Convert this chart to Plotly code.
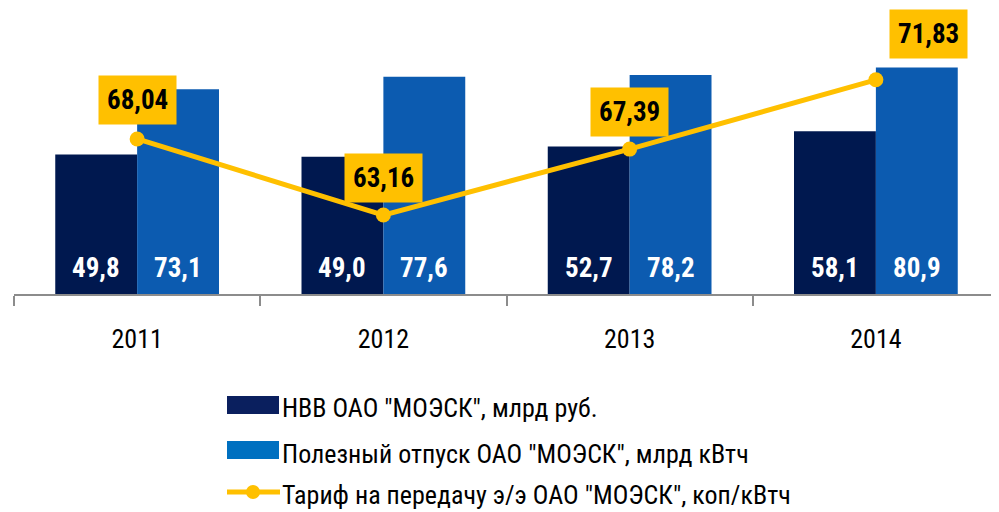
import plotly.graph_objects as go

years = ["2011", "2012", "2013", "2014"]
nvv = [49.8, 49.0, 52.7, 58.1]
otpusk = [73.1, 77.6, 78.2, 80.9]
tarif = [68.04, 63.16, 67.39, 71.83]

name_nvv = 'НВВ ОАО "МОЭСК", млрд руб.'
name_otp = 'Полезный отпуск ОАО "МОЭСК", млрд кВтч'
name_tar = 'Тариф на передачу э/э ОАО "МОЭСК", коп/кВтч'

C_DARK = "#00184F"
C_BLUE = "#0C5BB0"
C_YEL = "#FFC000"
FONT = "Roboto Condensed, DejaVu Sans Condensed, sans-serif"

# page body has an 8px margin; figure sized to fill the remaining window
OFF = 8
W, H = 999 - OFF, 512 - OFF
ML, MR, MT, MB = 6, 0, 2, 218
PH = H - MT - MB
PW = W - ML - MR
BARGAP = 0.335


def px_x(x):  # reference-window pixel -> paper x
    return (x - OFF - ML) / PW


def px_y(y):  # reference-window pixel -> paper y
    return (H - MB - (y - OFF)) / PH


fig = go.Figure()
fig.add_trace(go.Bar(x=years, y=nvv, name=name_nvv,
                     marker=dict(color=C_DARK, line=dict(width=0)), showlegend=False))
fig.add_trace(go.Bar(x=years, y=otpusk, name=name_otp,
                     marker=dict(color=C_BLUE, line=dict(width=0)), showlegend=False))
fig.add_trace(go.Scatter(
    x=years, y=tarif, name=name_tar, yaxis="y2", mode="lines+markers",
    line=dict(color=C_YEL, width=5), marker=dict(color=C_YEL, size=15),
    showlegend=False,
))

# bar value labels (white, bold, near the bottom of each bar)
off = (1 - BARGAP) / 4
for i in range(len(years)):
    for vals, sgn in ((nvv, -1), (otpusk, 1)):
        fig.add_annotation(
            x=i + sgn * off, y=0, xref="x", yref="y", text=f"{vals[i]:.1f}".replace(".", ","),
            showarrow=False, yanchor="middle", yshift=26,
            font=dict(size=27, color="white", family=FONT, weight="bold"),
        )

# tariff labels in yellow boxes
shifts = [(0, 38.5), (0, 37.5), (0, 37.5), (53, 46)]
for i, (v, (dx, dy)) in enumerate(zip(tarif, shifts)):
    fig.add_annotation(
        x=i, y=v, xref="x", yref="y2", text=f"{v:.2f}".replace(".", ","),
        showarrow=False, xshift=dx, yshift=dy, bgcolor=C_YEL, borderpad=8,
        font=dict(size=27, color="black", family=FONT, weight="bold"),
    )

# custom legend
leg = [(name_nvv, "#0A1F5E", "bar", 405, 407.5),
       (name_otp, "#0070C0", "bar", 450, 454),
       (name_tar, C_YEL, "line", 492, 495)]
for text, col, kind, ys, yt in leg:
    if kind == "bar":
        fig.add_shape(type="rect", xref="paper", yref="paper",
                      x0=px_x(227), x1=px_x(279), y0=px_y(ys + 9), y1=px_y(ys - 9),
                      fillcolor=col, line=dict(width=0))
    else:
        fig.add_shape(type="line", xref="paper", yref="paper",
                      x0=px_x(227), x1=px_x(280), y0=px_y(ys), y1=px_y(ys),
                      line=dict(color=col, width=5))
        fig.add_shape(type="circle", xref="paper", yref="paper",
                      x0=px_x(246), x1=px_x(260), y0=px_y(ys + 7), y1=px_y(ys - 7),
                      fillcolor=col, line=dict(width=0))
    fig.add_annotation(x=px_x(280), y=px_y(yt), xref="paper", yref="paper", text=text,
                       showarrow=False, xanchor="left", yanchor="middle",
                       font=dict(size=26, color="black", family=FONT))

fig.update_layout(
    width=W, height=H, margin=dict(l=ML, r=MR, t=MT, b=MB),
    plot_bgcolor="white", paper_bgcolor="white",
    barmode="group", bargap=BARGAP, bargroupgap=0,
    font=dict(family=FONT, color="black"),
    xaxis=dict(type="category", range=[-0.5, 3.5], showline=True, linecolor="#8c8c8c",
               linewidth=2, ticks="outside", tickson="boundaries", ticklen=10,
               tickcolor="#8c8c8c", tickwidth=2,
               tickfont=dict(size=26, color="black", family=FONT),
               ticklabelstandoff=21, showgrid=False, zeroline=False),
    yaxis=dict(range=[0, PH / 2.8], visible=False, showgrid=False),
    yaxis2=dict(range=[58.10, 58.10 + PH / 15.6], overlaying="y", visible=False,
                showgrid=False),
)

fig.write_html("out.html")
